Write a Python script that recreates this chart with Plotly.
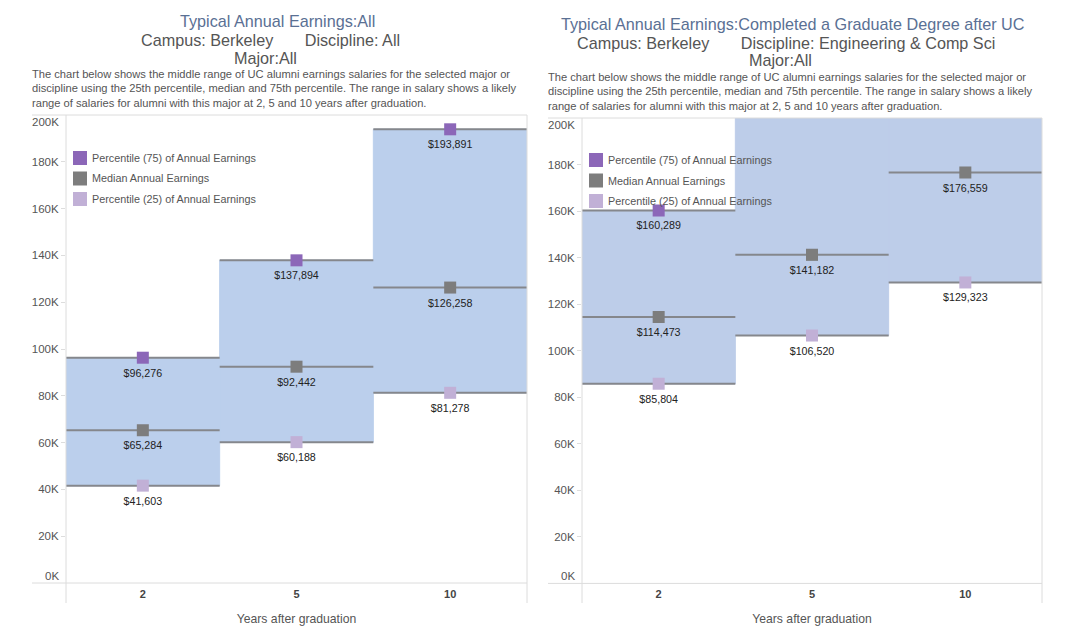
import plotly.graph_objects as go

YEARS = ["2", "5", "10"]
POS = [0, 1, 2]
L_P75 = [96276, 137894, 193891]
L_MED = [65284, 92442, 126258]
L_P25 = [41603, 60188, 81278]
# The last two right-hand 75th percentiles run off the top of the axis; these are estimates.
R_P75 = [160289, 215000, 230000]
R_MED = [114473, 141182, 176559]
R_P25 = [85804, 106520, 129323]
Y_MAX = 200000
Y_TICKS = [20000, 40000, 60000, 80000, 100000, 120000, 140000, 160000, 180000]
Y_LABELS = ["20K", "40K", "60K", "80K", "100K", "120K", "140K", "160K", "180K"]
SERIES_NAMES = ["Percentile (75) of Annual Earnings", "Median Annual Earnings", "Percentile (25) of Annual Earnings"]
DESC = ("The chart below shows the middle range of UC alumni earnings salaries for the selected major or<br>"
        "discipline using the 25th percentile, median and 75th percentile. The range in salary shows a likely<br>"
        "range of salaries for alumni with this major at 2, 5 and 10 years after graduation.")

# The page places the figure 8px in from the window corner.
PAGE_OFFSET = 8
W, H = 1080 - 2 * PAGE_OFFSET, 641 - 2 * PAGE_OFFSET
FONT = "Liberation Sans"
COLS = ["#8c67b8", "#7d7d7d", "#c1b0d6"]
LINE = "#85878c"
GRID = "#dcdcdc"
TXT = "#555555"

fig = go.Figure()
def px(v): return (v - PAGE_OFFSET) / W
def py(v): return 1 - (v - PAGE_OFFSET) / H

panels = [
    dict(xa="x", ya="y", xdom=(66, 527), ydom=(115, 583), p=(L_P75, L_MED, L_P25), left=32, top=115,
         band="#bbcfec", legx=73, legy=(158, 178.5, 199)),
    dict(xa="x2", ya="y2", xdom=(582, 1042), ydom=(118, 583.4), p=(R_P75, R_MED, R_P25), left=548, top=118,
         band="#bdcde9", legx=589, legy=(160, 180.5, 201)),
]
for pn in panels:
    p75, med, p25 = pn["p"]
    fig.add_trace(go.Bar(x=POS, base=p25, y=[a - b for a, b in zip(p75, p25)], width=1,
                         marker=dict(color=pn["band"], line=dict(color=pn["band"], width=1)),
                         showlegend=False, hoverinfo="skip", xaxis=pn["xa"], yaxis=pn["ya"]))
    for vals, col, name in zip(pn["p"], COLS, SERIES_NAMES):
        fig.add_trace(go.Scatter(
            x=POS, y=vals, mode="markers", name=name, showlegend=False,
            marker=dict(symbol="square", size=12, color=col),
            error_x=dict(type="constant", value=0.5, thickness=2, width=0, color=LINE),
            xaxis=pn["xa"], yaxis=pn["ya"]))
        # Value labels sit a little below the markers: a larger invisible marker sets that gap
        fig.add_trace(go.Scatter(
            x=POS, y=vals, mode="markers+text", name=name, showlegend=False, hoverinfo="skip",
            text=[f"${v:,}" if v <= Y_MAX else "" for v in vals], textposition="bottom center", cliponaxis=True,
            textfont=dict(family=FONT, size=10.7, color="#222222"),
            marker=dict(symbol="square", size=16, color="rgba(0,0,0,0)"),
            xaxis=pn["xa"], yaxis=pn["ya"]))
    n = pn["xa"][1:]
    fig.update_layout({
        f"xaxis{n}": dict(domain=[px(pn["xdom"][0]), px(pn["xdom"][1])], range=[-0.5, 2.5], tickvals=POS, ticktext=YEARS,
                          showgrid=False, zeroline=False, showline=False, ticks="", anchor=pn["ya"], ticklabelstandoff=3,
                          tickfont=dict(family=FONT, size=11, color="#444444", weight="bold"),
                          title=dict(text="Years after graduation", font=dict(family=FONT, size=12.2, color=TXT), standoff=15)),
        f"yaxis{n}": dict(domain=[py(pn["ydom"][1]), py(pn["ydom"][0])], range=[0, Y_MAX], tickvals=Y_TICKS, ticktext=Y_LABELS,
                          showgrid=False, zeroline=False, showline=False, ticks="outside", ticklen=4, tickcolor="#dddddd",
                          tickfont=dict(family=FONT, size=11.5, color=TXT), anchor=pn["xa"]),
    })
    x0, x1 = pn["xdom"]; y1 = pn["ydom"][1]; top = pn["top"]; left = pn["left"]
    for (a, b, c, d) in [(left, y1, x1, y1), (left, top, x1, top), (x0, top, x0, 603), (x1, top, x1, 603)]:
        fig.add_shape(type="line", xref="paper", yref="paper", x0=px(a), y0=py(b), x1=px(c), y1=py(d),
                      line=dict(color=GRID, width=1), layer="above")
    for txt, yy in [("0K", y1 - 7), ("200K", top + 7)]:
        fig.add_annotation(xref="paper", yref="paper", x=px(x0 - 5), y=py(yy), text=txt, showarrow=False, xanchor="right",
                           yanchor="middle", font=dict(family=FONT, size=11.5, color=TXT))
    # Legend keys: compact swatches beside their labels
    lx = pn["legx"]
    for ly, col, name in zip(pn["legy"], COLS, SERIES_NAMES):
        fig.add_shape(type="rect", xref="paper", yref="paper", x0=px(lx), x1=px(lx + 14),
                      y0=py(ly - 7), y1=py(ly + 7), fillcolor=col, line_width=0, layer="above")
        fig.add_annotation(xref="paper", yref="paper", x=px(lx + 19), y=py(ly), text=name, showarrow=False, xanchor="left",
                           yanchor="middle", xshift=-2, font=dict(family=FONT, size=10.8, color=TXT))

def note(x, y, text, size, color, anchor="center"):
    fig.add_annotation(xref="paper", yref="paper", x=px(x), y=py(y), text=text, showarrow=False, xanchor=anchor,
                       yanchor="middle", align="left" if anchor == "left" else "center", xshift=-2 if anchor == "left" else 0,
                       font=dict(family=FONT, size=size, color=color))

TITLE = "#5a7094"
GAP = "&nbsp;" * 7
note(277.5, 21, "Typical Annual Earnings:All", 16.2, TITLE)
note(270.5, 39.5, f"Campus: Berkeley{GAP}Discipline: All", 16.2, TXT)
note(265, 58, "Major:All", 16.2, TXT)
note(32, 88.5, DESC, 11.15, TXT, "left")
note(793, 24, "Typical Annual Earnings:Completed a Graduate Degree after UC", 16.2, TITLE)
note(786, 42.5, f"Campus: Berkeley{GAP}Discipline: Engineering &amp; Comp Sci", 16.2, TXT)
note(780, 60.5, "Major:All", 16.2, TXT)
note(548, 91, DESC, 11.15, TXT, "left")

fig.update_layout(
    width=W, height=H, autosize=False, template=None, plot_bgcolor="white", paper_bgcolor="white",
    margin=dict(l=0, r=0, t=0, b=0), barmode="overlay", showlegend=False,
)
fig.write_html("out.html")
